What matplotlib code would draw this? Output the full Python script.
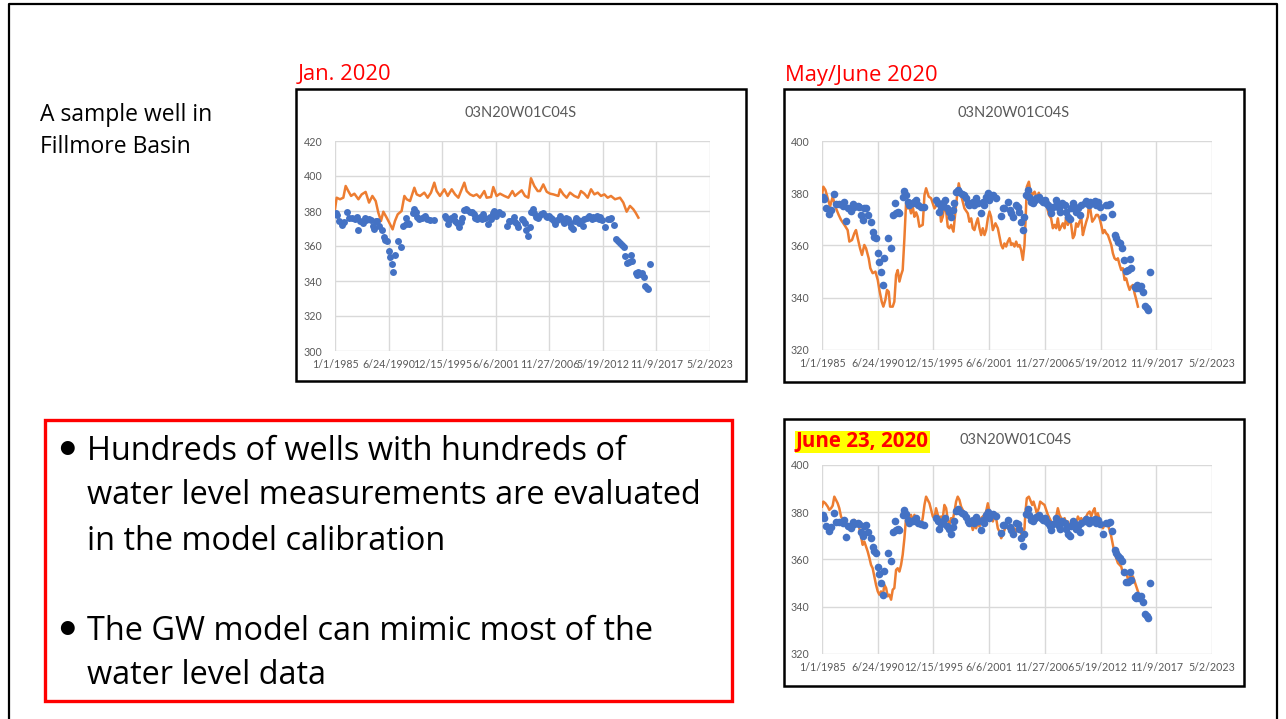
import matplotlib.pyplot as plt
from matplotlib.patches import Rectangle

W, H = 1286, 719
plt.rcParams['font.family'] = ['Lato', 'DejaVu Sans']
SLIDE_FONT = ['Open Sans', 'DejaVu Sans']

# time is in years after 1/1/1985, level in feet
obs = [
    (0.07, 378.7), (0.23, 377.7), (0.39, 374.2), (0.72, 371.9), (0.89, 373.6), (1.21, 379.6),
    (1.38, 376.0), (1.70, 375.8), (2.03, 375.3), (2.20, 376.8), (2.36, 369.4), (2.52, 374.2),
    (2.85, 373.2), (3.02, 376.0), (3.18, 374.9), (3.51, 375.3), (3.67, 374.9), (3.84, 371.7),
    (4.00, 369.8), (4.16, 374.2), (4.33, 374.5), (4.49, 371.7), (4.82, 369.1), (4.98, 365.3),
    (5.15, 363.4), (5.31, 362.8), (5.48, 357.0), (5.64, 353.8), (5.80, 350.0), (5.97, 344.9),
    (6.13, 355.1), (6.46, 362.8), (6.79, 359.2), (6.95, 371.7), (7.21, 376.1), (7.28, 372.3),
    (7.44, 373.0), (7.61, 372.3), (7.93, 378.7), (8.10, 380.9), (8.26, 379.3), (8.43, 376.8),
    (8.59, 375.5), (8.92, 376.1), (9.08, 376.8), (9.25, 377.4), (9.41, 375.5), (9.74, 374.9),
    (10.07, 374.6), (11.21, 377.4), (11.38, 376.1), (11.54, 372.7), (11.70, 374.9), (11.87, 376.1),
    (12.13, 377.4), (12.26, 374.2), (12.52, 373.0), (12.69, 371.0), (12.85, 373.6), (13.02, 376.1),
    (13.18, 380.6), (13.34, 381.2), (13.51, 380.6), (13.77, 379.6), (14.00, 379.3), (14.16, 378.1),
    (14.33, 376.1), (14.49, 375.5), (14.66, 376.1), (14.82, 376.8), (14.98, 375.5), (15.15, 378.1),
    (15.31, 376.1), (15.64, 372.3), (15.80, 376.8), (15.97, 375.5), (16.13, 378.7), (16.30, 380.2),
    (16.46, 377.4), (16.79, 379.3), (17.11, 378.3), (17.61, 371.4), (17.77, 374.5), (17.93, 374.5),
    (18.26, 376.8), (18.43, 373.6), (18.59, 372.3), (18.75, 371.0), (19.08, 375.5), (19.25, 374.9),
    (19.41, 373.0), (19.57, 369.1), (19.74, 365.9), (19.90, 371.0), (20.07, 379.3), (20.23, 381.2),
    (20.39, 378.7), (20.56, 376.8), (20.72, 376.1), (20.89, 377.4), (21.05, 378.1), (21.31, 378.7),
    (21.54, 377.4), (21.70, 376.8), (21.87, 377.4), (22.03, 376.1), (22.20, 375.5), (22.36, 374.2),
    (22.52, 372.3), (22.69, 374.9), (22.95, 377.4), (23.08, 376.1), (23.28, 374.2), (23.41, 373.0),
    (23.61, 376.1), (23.84, 375.5), (24.00, 373.0), (24.16, 371.0), (24.33, 370.0), (24.49, 374.2),
    (24.66, 376.1), (24.82, 374.9), (24.98, 373.0), (25.15, 374.2), (25.31, 371.7), (25.48, 375.5),
    (25.80, 376.1), (25.97, 377.0), (26.23, 375.5), (26.36, 376.8), (26.56, 376.1), (26.79, 377.0),
    (26.95, 375.5), (27.11, 376.8), (27.28, 374.9), (27.61, 371.0), (27.87, 375.5), (28.10, 375.5),
    (28.26, 375.8), (28.52, 372.1), (28.75, 364.0), (28.92, 362.8), (29.08, 361.5), (29.31, 360.8),
    (29.51, 359.2), (29.64, 354.5), (29.84, 350.3), (30.07, 350.6), (30.23, 354.8), (30.39, 351.2),
    (30.72, 344.3), (30.89, 343.6), (30.98, 344.9), (31.15, 343.9), (31.38, 344.6), (31.54, 342.1),
    (31.70, 337.0), (31.93, 336.0), (32.03, 335.3), (32.20, 350.0),
]

model_jan = [
    (0.00, 381.0), (0.17, 387.6), (0.51, 386.7), (0.85, 387.6), (1.09, 394.3), (1.36, 391.4),
    (1.64, 388.6), (1.98, 389.9), (2.39, 386.7), (2.73, 389.5), (3.13, 390.9), (3.48, 384.8),
    (3.82, 388.6), (4.16, 385.7), (4.43, 379.0), (4.70, 374.3), (4.94, 379.6), (5.28, 376.2),
    (5.55, 373.3), (5.89, 369.5), (6.13, 374.3), (6.41, 378.1), (6.81, 380.0), (7.09, 388.6),
    (7.33, 386.7), (7.67, 385.7), (8.11, 393.3), (8.35, 389.5), (8.69, 388.6), (9.13, 390.5),
    (9.47, 387.6), (9.81, 390.5), (10.15, 396.2), (10.39, 391.4), (10.73, 388.6), (11.18, 392.4),
    (11.52, 388.6), (11.93, 392.4), (12.27, 389.5), (12.61, 387.6), (12.95, 392.4), (13.22, 396.2),
    (13.46, 391.4), (13.80, 389.5), (14.14, 388.6), (14.48, 389.5), (14.82, 387.6), (15.26, 391.4),
    (15.50, 387.6), (15.95, 388.0), (16.18, 393.7), (16.52, 388.6), (16.87, 389.9), (17.31, 388.6),
    (17.72, 387.6), (18.13, 391.4), (18.40, 388.6), (18.67, 389.9), (19.08, 391.8), (19.42, 388.6),
    (19.76, 387.6), (20.03, 398.7), (20.37, 394.3), (20.72, 391.4), (20.95, 391.4), (21.29, 395.2),
    (21.64, 391.0), (21.98, 389.9), (22.32, 389.5), (22.83, 388.6), (23.00, 392.4), (23.34, 389.5),
    (23.68, 387.6), (24.02, 390.5), (24.46, 388.6), (24.87, 387.6), (25.14, 391.4), (25.49, 389.9),
    (25.83, 387.6), (26.17, 392.4), (26.51, 389.5), (26.85, 390.5), (27.19, 388.6), (27.53, 389.5),
    (27.87, 387.6), (28.21, 388.6), (28.62, 386.7), (29.13, 387.6), (29.47, 384.8), (29.81, 379.6),
    (30.15, 382.9), (30.49, 381.0), (30.73, 379.0), (31.01, 376.2),
]

model_may = [
    (0.00, 379.3), (0.13, 382.5), (0.33, 381.3), (0.56, 378.1), (0.79, 374.9), (1.05, 378.7),
    (1.31, 374.9), (1.64, 371.7), (1.87, 369.8), (2.20, 367.9), (2.52, 365.9), (2.69, 361.5),
    (2.95, 362.1), (3.18, 364.7), (3.34, 365.9), (3.51, 362.8), (3.74, 358.9), (3.93, 356.4),
    (4.16, 360.2), (4.33, 358.9), (4.59, 355.1), (4.75, 351.3), (4.98, 349.4), (5.25, 350.0),
    (5.48, 346.8), (5.64, 343.0), (5.87, 338.5), (6.03, 336.6), (6.23, 339.2), (6.39, 343.0),
    (6.56, 342.3), (6.69, 336.6), (6.95, 336.6), (7.11, 338.5), (7.28, 348.7), (7.44, 350.6),
    (7.61, 346.2), (7.77, 348.7), (7.93, 350.6), (8.10, 362.8), (8.26, 376.1), (8.43, 374.2),
    (8.59, 374.9), (8.75, 372.3), (8.92, 374.9), (9.08, 371.0), (9.25, 372.7), (9.41, 371.0),
    (9.57, 367.2), (9.90, 367.9), (10.07, 379.3), (10.23, 381.9), (10.49, 378.7), (10.72, 378.1),
    (11.05, 374.2), (11.28, 375.5), (11.54, 375.5), (11.70, 369.1), (11.87, 371.0), (12.03, 375.5),
    (12.20, 373.0), (12.36, 367.2), (12.52, 366.6), (12.69, 367.9), (12.92, 365.3), (13.11, 373.0),
    (13.25, 378.1), (13.44, 383.8), (13.67, 379.3), (14.00, 374.2), (14.33, 372.3), (14.49, 369.1),
    (14.66, 370.4), (14.82, 366.6), (14.98, 365.9), (15.15, 368.5), (15.31, 370.4), (15.48, 366.6),
    (15.64, 364.0), (15.80, 366.6), (15.97, 364.0), (16.13, 365.9), (16.30, 370.4), (16.46, 373.0),
    (16.62, 371.0), (16.79, 365.9), (17.05, 368.5), (17.28, 366.6), (17.44, 363.4), (17.61, 360.2),
    (17.77, 358.9), (17.93, 360.8), (18.10, 359.6), (18.26, 361.5), (18.43, 362.8), (18.59, 360.2),
    (18.75, 360.8), (18.92, 359.6), (19.08, 361.5), (19.25, 359.6), (19.41, 360.2), (19.57, 358.3),
    (19.74, 354.5), (19.90, 360.2), (20.00, 369.1), (20.13, 382.5), (20.33, 384.4), (20.46, 381.3),
    (20.66, 379.3), (20.89, 380.6), (21.11, 378.1), (21.31, 380.2), (21.54, 376.8), (21.70, 377.4),
    (21.87, 376.1), (22.10, 374.9), (22.30, 371.7), (22.52, 370.4), (22.69, 366.6), (22.85, 367.9),
    (23.02, 366.6), (23.18, 370.4), (23.34, 365.9), (23.51, 367.2), (23.67, 368.5), (23.84, 366.6),
    (24.00, 371.0), (24.16, 367.9), (24.33, 370.4), (24.49, 367.9), (24.66, 362.8), (24.82, 364.0),
    (24.98, 368.5), (25.15, 367.2), (25.31, 369.1), (25.48, 370.4), (25.64, 364.0), (25.80, 366.6),
    (25.97, 369.1), (26.13, 371.0), (26.23, 375.5), (26.36, 374.2), (26.56, 369.1), (26.79, 370.4),
    (26.95, 371.7), (27.11, 371.7), (27.28, 370.4), (27.44, 367.9), (27.61, 364.7), (27.77, 365.9),
    (27.93, 364.7), (28.10, 364.0), (28.26, 362.1), (28.43, 360.2), (28.59, 357.0), (28.75, 355.1),
    (28.92, 354.5), (29.08, 355.1), (29.25, 352.6), (29.41, 350.6), (29.57, 351.3), (29.74, 346.8),
    (29.90, 347.4), (30.07, 344.9), (30.23, 343.0), (30.39, 344.3), (30.56, 344.9), (30.72, 341.7),
    (30.89, 339.2), (31.05, 336.6),
]

model_jun = [
    (0.00, 382.4), (0.13, 384.5), (0.33, 383.8), (0.56, 382.4), (0.72, 381.0), (0.89, 381.7),
    (1.05, 382.8), (1.21, 386.6), (1.38, 385.2), (1.54, 383.8), (1.70, 381.7), (1.87, 378.2),
    (2.10, 376.1), (2.36, 375.4), (2.69, 374.6), (3.02, 375.4), (3.18, 376.8), (3.34, 375.4),
    (3.51, 376.1), (3.67, 373.2), (3.84, 369.7), (4.00, 366.2), (4.16, 367.6), (4.33, 365.5),
    (4.49, 363.4), (4.66, 360.6), (4.82, 357.7), (4.98, 356.3), (5.15, 352.8), (5.31, 349.3),
    (5.48, 346.5), (5.64, 345.1), (5.80, 346.5), (5.97, 344.4), (6.13, 349.3), (6.30, 347.9),
    (6.46, 344.4), (6.62, 345.1), (6.79, 343.0), (6.95, 347.2), (7.11, 347.9), (7.28, 355.6),
    (7.44, 356.3), (7.61, 354.9), (7.77, 357.7), (7.93, 362.0), (8.10, 369.0), (8.26, 377.5),
    (8.43, 378.9), (8.59, 377.5), (8.75, 378.9), (8.92, 376.1), (9.08, 378.9), (9.25, 376.1),
    (9.41, 374.6), (9.57, 375.4), (9.74, 374.6), (9.90, 377.5), (10.07, 383.1), (10.23, 386.6),
    (10.39, 385.2), (10.56, 383.8), (10.72, 381.0), (10.89, 378.2), (11.05, 377.5), (11.21, 381.7),
    (11.38, 378.9), (11.54, 377.5), (11.70, 378.2), (11.87, 377.5), (12.03, 383.1), (12.20, 381.7),
    (12.36, 376.8), (12.52, 374.6), (12.69, 377.5), (12.85, 376.8), (13.02, 380.3), (13.18, 384.5),
    (13.34, 386.6), (13.51, 385.2), (13.67, 382.4), (13.84, 381.0), (14.00, 379.6), (14.16, 378.2),
    (14.33, 376.8), (14.49, 374.6), (14.66, 375.4), (14.82, 372.5), (14.98, 374.6), (15.15, 373.2),
    (15.31, 376.1), (15.48, 373.9), (15.64, 377.5), (15.80, 378.2), (15.97, 378.9), (16.13, 380.3),
    (16.30, 383.8), (16.46, 380.3), (16.62, 377.5), (16.79, 376.1), (16.95, 378.2), (17.11, 377.5),
    (17.28, 373.2), (17.44, 371.8), (17.61, 369.0), (17.77, 370.4), (17.93, 372.5), (18.10, 374.6),
    (18.26, 373.2), (18.43, 373.9), (18.59, 374.6), (18.75, 372.5), (18.92, 373.2), (19.08, 371.8),
    (19.25, 372.5), (19.41, 373.2), (19.57, 371.1), (19.74, 369.7), (19.90, 373.2), (20.00, 380.3),
    (20.13, 385.9), (20.33, 386.6), (20.46, 385.2), (20.66, 383.1), (20.79, 384.5), (20.98, 381.7),
    (21.11, 379.6), (21.31, 381.7), (21.44, 384.5), (21.64, 383.8), (21.87, 383.1), (22.03, 381.0),
    (22.20, 378.9), (22.36, 377.5), (22.52, 376.1), (22.69, 374.6), (22.85, 376.1), (23.02, 378.2),
    (23.18, 381.7), (23.34, 378.9), (23.51, 377.5), (23.67, 376.1), (23.84, 377.5), (24.00, 375.4),
    (24.16, 376.1), (24.33, 374.6), (24.49, 373.2), (24.66, 374.6), (24.82, 376.1), (24.98, 375.4),
    (25.15, 378.2), (25.31, 376.8), (25.48, 377.5), (25.64, 376.1), (25.80, 377.5), (25.97, 378.2),
    (26.13, 379.6), (26.30, 380.3), (26.46, 378.2), (26.62, 380.3), (26.79, 381.7), (26.95, 377.5),
    (27.11, 379.6), (27.28, 376.8), (27.44, 374.6), (27.61, 373.2), (27.77, 374.6), (27.93, 375.4),
    (28.10, 374.6), (28.26, 372.5), (28.43, 369.7), (28.59, 366.2), (28.75, 362.7), (28.92, 360.6),
    (29.08, 358.5), (29.25, 357.7), (29.41, 357.0), (29.57, 354.2), (29.74, 353.5), (29.90, 354.2),
    (30.07, 351.8), (30.23, 352.5), (30.39, 353.2), (30.56, 352.8), (30.72, 350.7), (30.89, 348.6),
    (31.05, 346.5),
]

tick_days = [0, 2000, 4000, 6000, 8000, 10000, 12000, 14000]
tick_dates = ['1/1/1985', '6/24/1990', '12/15/1995', '6/6/2001',
              '11/27/2006', '5/19/2012', '11/9/2017', '5/2/2023']
well_name = '03N20W01C04S'

bullets = [
    ['Hundreds of wells with hundreds of',
     'water level measurements are evaluated',
     'in the model calibration'],
    ['The GW model can mimic most of the',
     'water level data'],
]


def place(l, t, r, b):
    return [l / W, 1 - b / H, (r - l) / W, (b - t) / H]


def well_chart(ax, model, ylo, yhi, ms):
    ax.plot([p[0] * 365.25 for p in model], [p[1] for p in model],
            color='#ED7D31', lw=1.8, zorder=2)
    ax.plot([p[0] * 365.25 for p in obs], [p[1] for p in obs], 'o',
            color='#4472C4', ms=ms, mec='none', zorder=3)
    ax.set_xlim(0, 14000)
    ax.set_ylim(ylo, yhi)
    ax.set_xticks(tick_days)
    ax.set_xticklabels(tick_dates)
    ax.set_yticks(range(ylo, yhi + 1, 20))
    ax.grid(color='#d9d9d9', lw=1)
    ax.set_axisbelow(True)
    for s in ax.spines.values():
        s.set_visible(False)
    ax.tick_params(length=0, labelsize=7.7, colors='#595959')
    ax.tick_params(axis='y', pad=9)
    ax.tick_params(axis='x', pad=6)


fig = plt.figure(figsize=(W / 100, H / 100), dpi=100)

bg = fig.add_axes([0, 0, 1, 1])
bg.set_xlim(0, W)
bg.set_ylim(H, 0)
bg.axis('off')

# slide frame
bg.plot([9, 9, 1277, 1277], [H, 4, 4, H], color='black', lw=1.6)

# chart frames
for (x, y, w, h) in [(296, 89, 450, 292), (784, 89, 460, 293), (784, 419, 460, 267)]:
    bg.add_patch(Rectangle((x, y), w, h, fc='white', ec='black', lw=1.8))
bg.add_patch(Rectangle((45, 420), 687, 281, fc='none', ec='#FF0000', lw=2.4))

bg.text(40, 115, 'A sample well in', fontsize=16.5, va='center', family=SLIDE_FONT)
bg.text(40, 147, 'Fillmore Basin', fontsize=16.5, va='center', family=SLIDE_FONT)
bg.text(298, 75, 'Jan. 2020', fontsize=15.8, color='#FF0000', va='center', family=SLIDE_FONT)
bg.text(785, 75, 'May/June 2020', fontsize=15.8, color='#FF0000', va='center', family=SLIDE_FONT)

bg.text(521, 113, well_name, fontsize=10.5, color='#595959', ha='center', va='center')
bg.text(1014, 113, well_name, fontsize=10.5, color='#595959', ha='center', va='center')
bg.text(1016, 440, well_name, fontsize=10.5, color='#595959', ha='center', va='center')
bg.text(796, 442, 'June 23, 2020', fontsize=14.8, fontweight='bold', color='#FF0000',
        va='center', family=SLIDE_FONT, bbox=dict(fc='#FFFF00', ec='none', pad=0.5))

line_y = [[451, 496, 541], [631, 675]]
for lines, ys in zip(bullets, line_y):
    bg.text(56, ys[0] - 3, '\u2022', fontsize=27, va='center')
    for s, y in zip(lines, ys):
        bg.text(87, y, s, fontsize=23.4, va='center', family=SLIDE_FONT)

ax1 = fig.add_axes(place(335, 141, 710, 351))
well_chart(ax1, model_jan, 300, 420, 5)
ax2 = fig.add_axes(place(822, 141, 1212, 350))
well_chart(ax2, model_may, 320, 400, 5.5)
ax3 = fig.add_axes(place(822, 465, 1212, 654))
well_chart(ax3, model_jun, 320, 400, 5.5)

fig.savefig('out.png', dpi=100)
